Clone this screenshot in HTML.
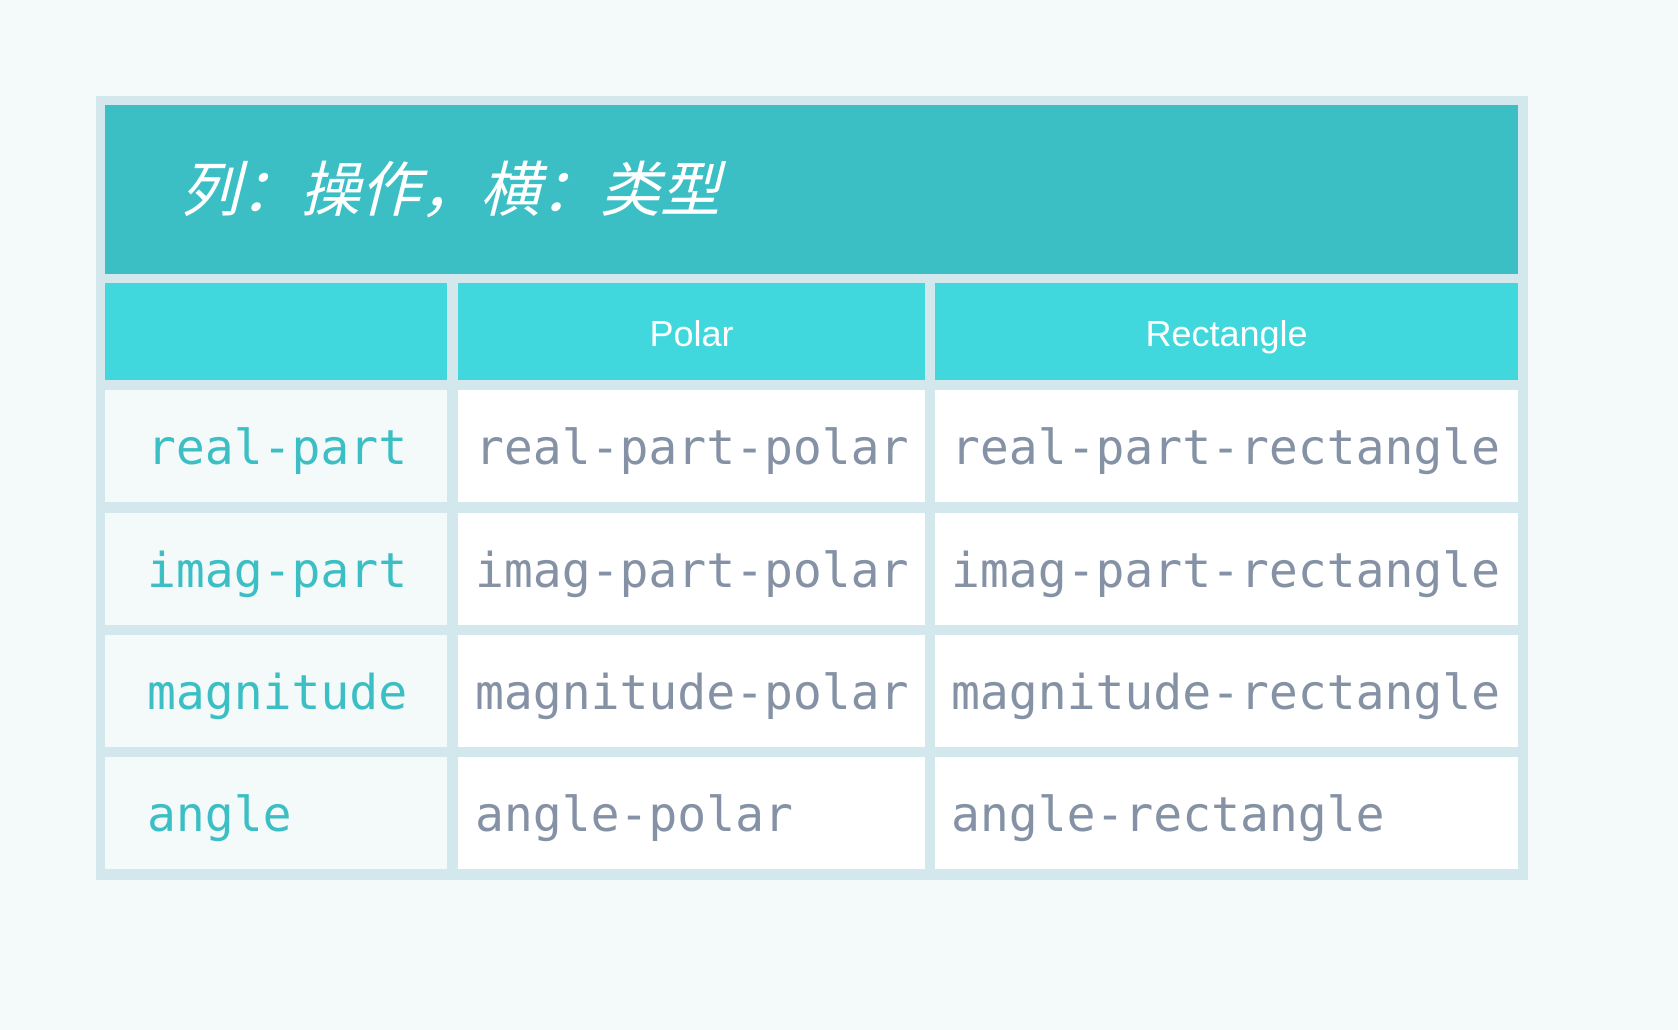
<!DOCTYPE html>
<html><head><meta charset="utf-8"><style>
body{margin:0;width:1678px;height:1030px;background:#f4f9f9;position:relative;overflow:hidden}
div{position:absolute;box-sizing:border-box}
.o{left:96px;top:96px;width:1432px;height:784px;background:#d2e8ec}
.t{left:105px;top:105px;width:1413px;height:169px;background:#3bbfc4}
.tt{left:180px;top:142px;font:italic 60px "Liberation Sans","Noto Sans CJK SC",sans-serif;color:#fff;white-space:nowrap}
.h{top:283px;height:97px;background:#40d8dc;color:#fff;font:36px "Liberation Sans",sans-serif;line-height:101px;text-align:center}
.c{height:112px;font:48px "DejaVu Sans Mono",monospace;line-height:116px;white-space:nowrap;color:#8592a6;background:#fff}
.l{left:105px;width:342px;background:#f4f9f9;color:#3bbfc4;padding-left:42px}
.p{left:458px;width:467px;padding-left:17px}
.r{left:935px;width:583px;padding-left:16px}
</style></head><body>
<div class="o"></div>
<div class="t"></div>
<div class="tt">列：操作，横：类型</div>
<div class="h" style="left:105px;width:342px"></div>
<div class="h" style="left:458px;width:467px">Polar</div>
<div class="h" style="left:935px;width:583px">Rectangle</div>

<div class="c l" style="top:390px">real-part</div>
<div class="c p" style="top:390px">real-part-polar</div>
<div class="c r" style="top:390px">real-part-rectangle</div>

<div class="c l" style="top:513px">imag-part</div>
<div class="c p" style="top:513px">imag-part-polar</div>
<div class="c r" style="top:513px">imag-part-rectangle</div>

<div class="c l" style="top:635px">magnitude</div>
<div class="c p" style="top:635px">magnitude-polar</div>
<div class="c r" style="top:635px">magnitude-rectangle</div>

<div class="c l" style="top:757px">angle</div>
<div class="c p" style="top:757px">angle-polar</div>
<div class="c r" style="top:757px">angle-rectangle</div>
</body></html>
